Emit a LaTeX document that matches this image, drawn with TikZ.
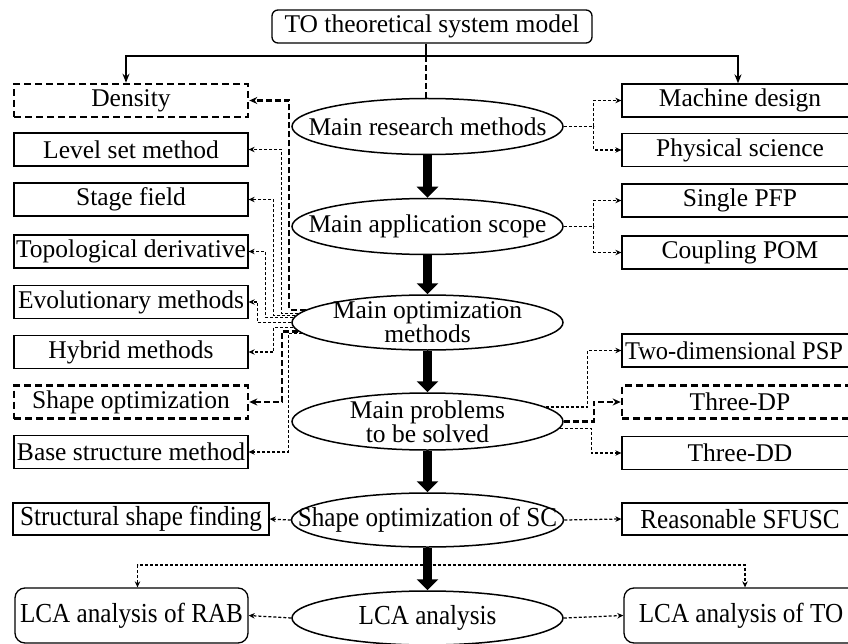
\documentclass[tikz,border=0pt]{standalone}
\usepackage{fontspec}
\setmainfont{Liberation Serif}
\usepackage{graphicx}
\usetikzlibrary{shapes.geometric,arrows.meta}
\newcommand\myfs{\fontsize{25.5}{24}\selectfont}
\newcommand\condtxt[1]{\scalebox{0.915}[1]{\fontsize{27.5}{30}\selectfont #1}}
\begin{document}
\begin{tikzpicture}[x=1pt,y=-1pt,
 lbox/.style={draw, line width=1.3pt, minimum width=234pt, minimum height=33pt, inner sep=0pt, font=\myfs},
 rbox/.style={lbox, minimum width=236pt},
 dbox/.style={line width=2.6pt, dash pattern=on 7pt off 4pt},
 ell/.style={draw, ellipse, line width=1.5pt, minimum width=271pt, minimum height=56pt, inner sep=0pt},
 etxt/.style={font=\myfs, align=center, inner sep=0pt},
 dconn/.style={line width=1.25pt, dash pattern=on 3pt off 2pt, -{Stealth[length=6pt,width=5.5pt]}},
 tconn/.style={line width=2.3pt, dash pattern=on 6pt off 3pt, -{Stealth[length=8pt,width=7pt]}},
 tline/.style={line width=2.3pt, dash pattern=on 6pt off 3pt},
 bigarrow/.style={line width=9pt, -{Triangle[width=21pt,length=11pt]}},
 sarrow/.style={line width=1.5pt, -{Stealth[length=9pt,width=7pt]}},
]
\useasboundingbox (0,0) rectangle (848,644);

% top node
\node[draw, rounded corners=6pt, line width=1.3pt, minimum width=320pt, minimum height=33pt, inner sep=0pt, font=\myfs] (top) at (432,26.5) {TO theoretical system model};

% left boxes
\node[lbox, dbox] (density) at (131,100.5) {Density};
\node[lbox] (level) at (131,149.5) {Level set method};
\node[lbox] (stage) at (131,199.5) {Stage field};
\node[lbox] (topo) at (131,251.5) {Topological derivative};
\node[lbox] (evol) at (131,302) {Evolutionary methods};
\node[lbox] (hybrid) at (131,352) {Hybrid methods};
\node[lbox, dbox] (shapeopt) at (131,402) {Shape optimization};
\node[lbox] (base) at (131,452) {Base structure method};

% right boxes
\node[rbox] (machine) at (740,100.5) {Machine design};
\node[rbox] (phys) at (740,150) {Physical science};
\node[rbox] (single) at (740,200.5) {Single PFP};
\node[rbox] (coupling) at (740,252.5) {Coupling POM};
\node[rbox] (twod) at (740,350.5) {\hspace*{-12pt}\scalebox{0.96}[1]{Two-dimensional PSP}};
\node[rbox, dbox] (threedp) at (740,402) {Three-DP};
\node[rbox] (threedd) at (740,453) {Three-DD};

% ellipses
\node[ell, label={[etxt]center:Main research methods}] (mrm) at (427.5,126.5) {};
\node[ell, label={[etxt]center:Main application scope}] (mas) at (427.5,226.5) {};
\node[ell, minimum height=55pt, label={[etxt]center:Main optimization\\methods}] (mop) at (427.5,322.5) {};
\node[ell, minimum height=57pt, label={[etxt]center:Main problems\\to be solved}] (mpb) at (427.5,421.5) {};
\node[ell, minimum width=272pt, minimum height=54pt, label={[inner sep=0pt]center:\condtxt{Shape optimization of SC}}] (sc) at (427.5,520) {};
\node[ell, minimum height=54pt, label={[inner sep=0pt]center:\condtxt{LCA analysis}}] (lca) at (427.5,618) {};

% bottom boxes
\node[lbox, minimum width=256pt, minimum height=32pt] (ssf) at (141,519) {\condtxt{Structural shape finding}};
\node[rbox, minimum height=32pt] (sfusc) at (740,519) {\condtxt{Reasonable SFUSC}};
\node[draw, rounded corners=10pt, line width=1.3pt, minimum width=233pt, minimum height=55pt, inner sep=0pt] (rab) at (131.5,615.5) {\condtxt{LCA analysis of RAB}};
\node[draw, rounded corners=10pt, line width=1.3pt, minimum width=234pt, minimum height=55pt, inner sep=0pt] (lcato) at (741,615.5) {\condtxt{LCA analysis of TO}};

% top connectors
\coordinate (tj) at (426,56);
\draw[line width=1.5pt] ([xshift=-6pt]top.south) -- (tj);
\draw[sarrow] (tj) -| ([xshift=-5pt]density.north);
\draw[sarrow] (tj) -| ([xshift=-2pt]machine.north);
\draw[tline] (tj) -- (tj |- mrm.north);

% right connectors
\draw[dconn] (mrm.east) -- ++(30,0) |- (machine.west);
\draw[dconn] (mrm.east) -- ++(30,0) |- (phys.west);
\draw[dconn] (mas.east) -- ++(30,0) |- (single.west);
\draw[dconn] (mas.east) -- ++(30,0) |- (coupling.west);
\draw[dconn] (mpb.7) -| ([xshift=-34pt]twod.west) -- (twod.west);
\draw[tconn] (mpb.east) -| ([xshift=-27pt]threedp.west) -- (threedp.west);
\draw[dconn] (mpb.357) -| ([xshift=-30pt]threedd.west) -- (threedd.west);

% left connectors
\draw[tconn] (mop.174) -| ([xshift=40pt]density.east) -- (density.east);
\draw[dconn] (mop.176) -| ([xshift=33pt]level.east) -- (level.east);
\draw[dconn] (mop.177) -| ([xshift=25pt]stage.east) -- (stage.east);
\draw[dconn] (mop.178) -| ([xshift=17pt]topo.east) -- (topo.east);
\draw[dconn] (mop.180) -| ([xshift=9pt]evol.east) -- (evol.east);
\draw[dconn] (mop.182) -| ([xshift=25pt]hybrid.east) -- (hybrid.east);
\draw[tconn] (mop.184) -| ([xshift=33pt]shapeopt.east) -- (shapeopt.east);
\draw[dconn] (mop.185) -| ([xshift=40pt]base.east) -- (base.east);

% bottom connectors
\draw[dconn] (sc.west) -- (ssf.east);
\draw[dconn] (sc.east) -- (sfusc.west);
\draw[dconn] (lca.west) -- (rab.east);
\draw[dconn] (lca.east) -- (lcato.west);
\coordinate (bj) at (427.5,565);
\draw[dconn] (bj) -| ([xshift=6pt]rab.north);
\draw[dconn] (bj) -| ([xshift=4pt]lcato.north);

% main thick arrows
\draw[bigarrow] (mrm.south) -- (mas.north);
\draw[bigarrow] (mas.south) -- (mop.north);
\draw[bigarrow] (mop.south) -- (mpb.north);
\draw[bigarrow] (mpb.south) -- (sc.north);
\draw[bigarrow] (sc.south) -- (lca.north);
\end{tikzpicture}
\end{document}
